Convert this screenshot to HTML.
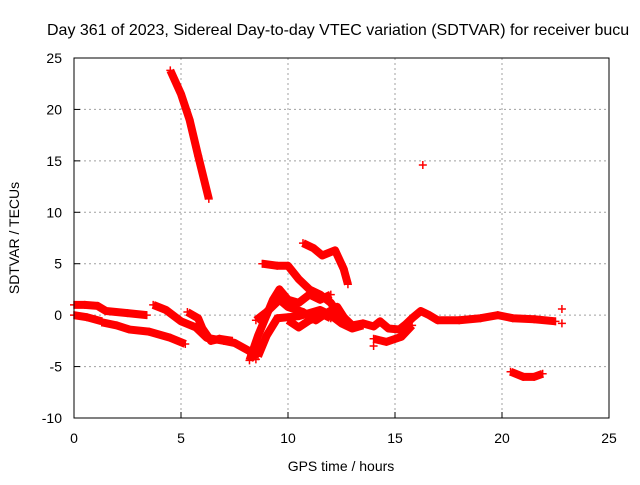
<!DOCTYPE html>
<html><head><meta charset="utf-8"><style>
body{margin:0;background:#fff;width:640px;height:480px;overflow:hidden}
svg{font-family:"Liberation Sans",sans-serif}
</style></head><body>
<svg width="640" height="480">
<text x="47" y="35" font-size="16" style="white-space:pre">Day 361 of 2023, Sidereal Day-to-day VTEC variation (SDTVAR) for receiver bucu</text>
<g id="grid"></g>
<g id="axes"></g>
<g id="marks"></g>
<rect x="74" y="58" width="535" height="360" fill="none" stroke="#000" stroke-width="1"/>
<text x="341" y="471" font-size="14" text-anchor="middle">GPS time / hours</text>
<text transform="translate(19,238) rotate(-90)" font-size="14" text-anchor="middle">SDTVAR / TECUs</text>
</svg>
<script>
const xTicks=[0,5,10,15,20,25];
const yTicks=[-10,-5,0,5,10,15,20,25];
const seg1=[[0,1],[0.5,1],[1.1,0.9],[1.5,0.4],[2.5,0.2],[3.4,0]];
const seg2=[[0,0],[0.6,-0.2],[1.3,-0.6]];
const seg3=[[1.3,-0.7],[2,-1],[2.6,-1.4],[3.5,-1.6],[4.5,-2.2],[5.2,-2.8]];
const seg4=[[3.7,1],[4.3,0.5],[5,-0.6],[5.7,-1.2],[6.2,-2.2],[7,-2.5],[7.5,-2.7],[8.2,-3.5],[8.5,-4.3]];
const seg5=[[5.3,0.3],[5.8,-0.3],[6,-1.3],[6.4,-2.5],[6.8,-2.3],[7.4,-2.5]];
const seg6=[[8.2,-4.4],[8.6,-2],[9,0],[9.3,1.5],[9.6,2.5],[10,1.5],[10.5,1.2],[11,2],[11.5,1.5],[12,2]];
const seg7=[[8.6,-4],[9,-2],[9.5,-0.3],[10.5,-0.1],[11.5,0.5],[12,0],[12.5,-0.8],[13,-1.3],[13.5,-1]];
const seg8=[[8.8,5],[9.5,4.8],[10,4.8],[10.5,3.5],[11,2.5],[11.5,2],[12,1.2],[12.5,-0.3]];
const seg9=[[10.7,7],[11.2,6.5],[11.6,5.8],[12.2,6.3],[12.6,4.5],[12.8,3]];
const seg10=[[10,-0.5],[10.5,-1.2],[11,-0.5],[11.7,0],[12,-0.3]];
const seg11=[[8.5,-0.5],[9,0.3],[9.6,1.5],[10,0.8],[10.7,0.3],[11.3,-0.5],[11.8,0.2],[12.3,0.8],[12.7,-0.5]];
const seg12=[[12.5,0],[13,-1],[13.5,-0.8],[14,-1.1],[14.3,-0.6],[14.7,-1.3],[15.2,-1.4],[15.5,-0.9],[15.8,-0.3],[16.2,0.4],[16.6,0],[17,-0.5],[18,-0.5],[19,-0.3],[19.8,0],[20.5,-0.3],[21.5,-0.4],[22.5,-0.6]];
const seg13=[[14,-2.3],[14.6,-2.6],[15.3,-2.1],[15.8,-1.0]];
const seg14=[[4.5,23.8],[5,21.5],[5.4,19],[5.8,15.5],[6.3,11.3]];
const seg15=[[20.4,-5.5],[21,-6],[21.5,-6],[21.9,-5.7]];
const isolated=[[16.3,14.6],[22.8,0.6],[22.8,-0.8],[14,-3]];
const segments=[seg1,seg2,seg3,seg4,seg5,seg6,seg7,seg8,seg9,seg10,seg11,seg12,seg13,seg14,seg15];

const X=v=>74+v*(535/25);
const Y=v=>418-(v+10)*(360/35);
const NS='http://www.w3.org/2000/svg';
const grid=document.getElementById('grid'),axes=document.getElementById('axes'),marks=document.getElementById('marks');
function mk(t,a,p){const e=document.createElementNS(NS,t);for(const k in a)e.setAttribute(k,a[k]);p.appendChild(e);return e;}
xTicks.forEach(t=>{
  if(t>0&&t<25){const g=mk('line',{x1:X(t),x2:X(t),y1:58,y2:418,stroke:'#a0a0a0','stroke-dasharray':'2,3'},grid);
  
  }
  const tk=mk('line',{x1:X(t),x2:X(t),y1:418,y2:412,stroke:'#000'},axes);
  
  
  const l=mk('text',{x:X(t),y:443,'font-size':14,'text-anchor':'middle'},axes);l.textContent=t;
  
  
});
yTicks.forEach(t=>{
  if(t>-10&&t<25){const g=mk('line',{x1:74,x2:609,y1:Y(t),y2:Y(t),stroke:'#a0a0a0','stroke-dasharray':'2,3'},grid);
  
  }
  const tk=mk('line',{x1:74,x2:80,y1:Y(t),y2:Y(t),stroke:'#000'},axes);
  
  
  const l=mk('text',{x:62,y:Y(t)+5,'font-size':14,'text-anchor':'end'},axes);l.textContent=t;
  
  
});
function plus(p){
  const e=mk('path',{d:`M${X(p[0])-4},${Y(p[1])}h8M${X(p[0])},${Y(p[1])-4}v8`,stroke:'#f00','stroke-width':1.5},marks);
  
  
}
segments.forEach(s=>{
  const e=mk('polyline',{points:s.map(p=>X(p[0])+','+Y(p[1])).join(' '),fill:'none',stroke:'#f00','stroke-width':8,'stroke-linejoin':'round'},marks);
  
  
  s.forEach(plus);
});
isolated.forEach(plus);
</script>
</body></html>
